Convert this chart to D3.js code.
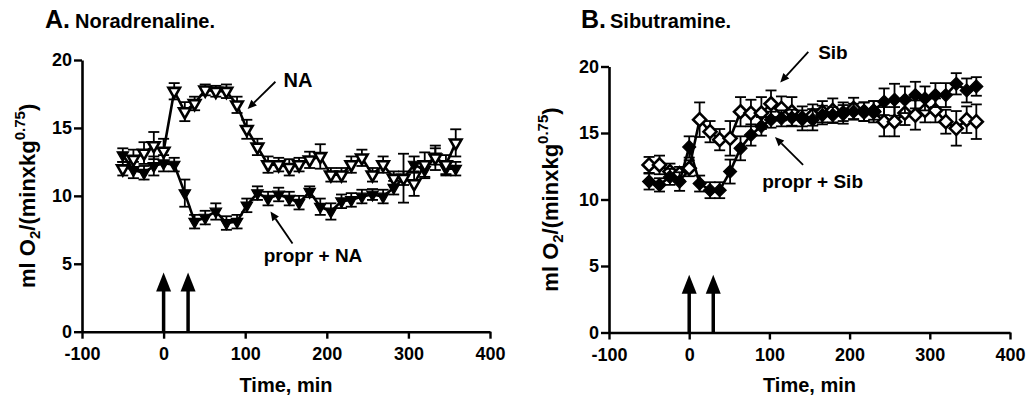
<!DOCTYPE html>
<html><head><meta charset="utf-8">
<script src="https://cdn.jsdelivr.net/npm/d3@7"></script>
<style>
body{margin:0;background:#fff}
text{font-family:"Liberation Sans",Arial,Helvetica,sans-serif;font-weight:bold;fill:#000}
</style>
</head><body>
<svg id="chart" width="1028" height="399"></svg>
<script>
// ---------- data ----------
const times = [-50,-37,-24,-12,0,13,26,38,51,64,77,90,102,115,128,141,154,166,179,192,205,218,230,243,256,269,282,294,307,320,333,346,358];

// Panel A: Noradrenaline
const naMean   = [12.0,12.7,13.15,13.7,13.3,17.7,16.2,16.8,17.8,17.7,17.7,16.7,14.9,13.6,12.3,12.3,12.1,12.3,12.65,12.9,11.55,11.55,12.3,12.8,11.55,12.3,11.3,11.3,10.9,12.3,12.8,12.3,13.9];
const naErr    = [0.5,0.7,0.8,1.0,0.9,0.6,0.7,0.5,0.4,0.4,0.5,0.6,0.7,0.6,0.6,0.5,0.6,0.5,0.6,0.9,0.5,0.5,0.6,0.6,0.5,0.6,0.5,1.8,0.9,0.9,0.9,0.7,1.0];
const prNaMean = [13.0,11.9,11.7,12.2,12.4,12.3,10.2,8.1,8.4,8.85,8.0,8.1,9.3,10.2,9.8,10.1,9.8,9.5,10.3,9.2,8.85,9.6,9.7,9.95,10.1,9.95,10.6,11.3,12.3,11.9,12.9,12.0,12.0];
const prNaErr  = [0.5,0.6,0.5,0.7,0.6,0.5,1.0,0.5,0.5,0.6,0.5,0.5,0.5,0.5,0.5,0.5,0.5,0.5,0.4,0.6,0.6,0.5,0.5,0.5,0.4,0.5,0.5,0.5,0.6,0.6,0.6,0.5,0.5];

// Panel B: Sibutramine
const sibMean   = [12.6,12.6,12.1,11.95,12.35,16.0,15.1,14.5,14.6,16.6,16.5,16.5,17.2,16.85,16.6,16.1,16.35,16.6,16.7,16.5,16.85,16.6,16.6,15.85,15.85,16.5,16.35,16.7,16.7,15.85,15.35,16.0,15.85];
const sibErr    = [0.6,0.7,0.6,0.5,0.6,1.3,0.8,0.8,1.3,1.1,1.0,1.2,1.0,0.9,1.1,0.9,0.8,0.8,0.9,0.8,0.8,0.7,0.8,1.1,1.1,0.9,1.1,0.9,0.9,0.9,1.3,1.0,1.3];
const prSibMean = [11.35,11.1,11.7,11.35,13.95,11.2,10.7,10.7,12.1,13.85,14.85,15.5,16.0,16.1,16.15,16.1,16.0,16.35,16.35,16.5,16.6,16.6,16.7,17.35,17.5,17.5,17.85,17.6,17.85,17.85,18.7,18.2,18.5];
const prSibErr  = [0.6,0.5,0.6,0.7,0.8,0.6,0.6,0.6,0.9,0.9,0.8,0.7,0.6,0.6,0.6,0.6,0.8,0.7,0.6,0.6,0.6,0.7,0.7,1.0,1.2,1.0,1.0,0.9,0.9,0.9,0.8,0.9,0.7];

const xTicks = [-100,0,100,200,300,400];
const yTicks = [0,5,10,15,20];
const xDomain = [-100,400];
const yDomain = [0,20];
const injectionTimes = [0,30];
const injectionTip = 4.35;

// annotations (data units: [t, value])
const annA = [
  {text:"NA", size:20, at:[147,18.0], from:[137,18.4], to:[103,16.4]},
  {text:"propr + NA", size:19, at:[122.6,5.13], from:[158,6.5], to:[131,8.85]}
];
const annB = [
  {text:"Sib", size:19, at:[160.8,20.6], from:[148.5,21.1], to:[113.5,18.8]},
  {text:"propr + Sib", size:19, at:[91,10.86], from:[142,12.6], to:[107,14.7]}
];

// ---------- drawing ----------
const svg = d3.select("#chart");

function markerPath(shape){
  if(shape==="tri"){ const w=11.5,h=10; return `M${-w/2},${-h/3}L${w/2},${-h/3}L0,${2*h/3}Z`; }
  const r=6.5; return `M0,${-r}L${r},0L0,${r}L${-r},0Z`;
}

function drawPanel(cfg){
  const g = svg.append("g");
  const x = d3.scaleLinear().domain(xDomain).range([cfg.x0,cfg.x1]);
  const y = d3.scaleLinear().domain(yDomain).range([cfg.yBot,cfg.yTop]);

  // titles
  g.append("text").attr("x",cfg.titleX).attr("y",28).attr("font-size",25).text(cfg.letter);
  g.append("text").attr("x",cfg.titleX2).attr("y",28).attr("font-size",20).text(cfg.title);

  // axes
  const fmt = d => String(d);
  const xa = g.append("g").attr("transform",`translate(0,${cfg.yBot})`)
    .call(d3.axisBottom(x).tickValues(xTicks).tickFormat(fmt).tickSize(7).tickPadding(9).tickSizeOuter(0));
  const ya = g.append("g").attr("transform",`translate(${cfg.x0},0)`)
    .call(d3.axisLeft(y).tickValues(yTicks).tickFormat(fmt).tickSize(8).tickPadding(2).tickSizeOuter(0));
  [xa,ya].forEach(a=>{
    a.select(".domain").attr("stroke","#000").attr("stroke-width",2.6);
    a.selectAll(".tick line").attr("stroke","#000").attr("stroke-width",2.4);
    a.selectAll(".tick text").attr("font-size",18).attr("font-family","Liberation Sans, Arial, sans-serif").attr("font-weight","bold").attr("fill","#000");
  });

  // axis titles
  g.append("text").attr("x",(cfg.x0+cfg.x1)/2).attr("y",392).attr("text-anchor","middle").attr("font-size",20).text("Time, min");
  const yl = g.append("text").attr("transform",`translate(${cfg.ylabX},${(cfg.yTop+cfg.yBot)/2}) rotate(-90)`)
    .attr("text-anchor","middle").attr("font-size",22);
  yl.append("tspan").text("ml O");
  yl.append("tspan").attr("font-size",15).attr("dy",5).text("2");
  yl.append("tspan").attr("dy",-5).text("/(minxkg");
  yl.append("tspan").attr("font-size",15).attr("dy",-10).text("0.75");
  yl.append("tspan").attr("dy",10).text(")");

  // injection arrows
  injectionTimes.forEach(t=>{
    const xp=x(t), yTip=y(injectionTip), yB=y(0);
    g.append("line").attr("x1",xp).attr("x2",xp).attr("y1",yB).attr("y2",yTip+15)
      .attr("stroke","#000").attr("stroke-width",3.5);
    g.append("path").attr("d",`M${xp},${yTip}L${xp+7.5},${yTip+19}L${xp-7.5},${yTip+19}Z`).attr("fill","#000");
  });

  // series
  cfg.series.forEach(s=>{
    const sg = g.append("g");
    const line = d3.line().x((d,i)=>x(times[i])).y(d=>y(d));
    sg.append("path").datum(s.mean).attr("d",line).attr("fill","none").attr("stroke","#000").attr("stroke-width",2.6);
    s.mean.forEach((m,i)=>{
      const xp=x(times[i]), e=s.err[i];
      sg.append("line").attr("x1",xp).attr("x2",xp).attr("y1",y(m-e)).attr("y2",y(m+e)).attr("stroke","#000").attr("stroke-width",1.8);
      [m-e,m+e].forEach(v=>sg.append("line").attr("x1",xp-5.5).attr("x2",xp+5.5).attr("y1",y(v)).attr("y2",y(v)).attr("stroke","#000").attr("stroke-width",1.8));
    });
    sg.selectAll("path.m").data(s.mean).enter().append("path").attr("class","m")
      .attr("d",markerPath(s.shape))
      .attr("transform",(d,i)=>`translate(${x(times[i])},${y(d)})`)
      .attr("fill",s.open?"#fff":"#000").attr("stroke","#000").attr("stroke-width",s.open?2.6:1.2)
      .attr("stroke-linejoin","miter");
  });

  // annotations
  cfg.ann.forEach(a=>{
    g.append("text").attr("x",x(a.at[0])).attr("y",y(a.at[1])).attr("font-size",a.size).text(a.text);
    const x1=x(a.from[0]), y1=y(a.from[1]), x2=x(a.to[0]), y2=y(a.to[1]);
    const ang=Math.atan2(y2-y1,x2-x1), L=9, W=4;
    const bx=x2-L*Math.cos(ang), by=y2-L*Math.sin(ang);
    g.append("line").attr("x1",x1).attr("y1",y1).attr("x2",bx).attr("y2",by).attr("stroke","#000").attr("stroke-width",1.8);
    const px=-Math.sin(ang)*W, py=Math.cos(ang)*W;
    g.append("path").attr("d",`M${x2},${y2}L${bx+px},${by+py}L${bx-px},${by-py}Z`).attr("fill","#000");
  });
}

drawPanel({x0:82,x1:490,yTop:60,yBot:331.7,ylabX:35,titleX:45,titleX2:75,letter:"A.",title:"Noradrenaline.",
  series:[{mean:prNaMean,err:prNaErr,shape:"tri",open:false},{mean:naMean,err:naErr,shape:"tri",open:true}],ann:annA});
drawPanel({x0:609,x1:1010,yTop:66.5,yBot:332.5,ylabX:558,titleX:581,titleX2:610,letter:"B.",title:"Sibutramine.",
  series:[{mean:sibMean,err:sibErr,shape:"dia",open:true},{mean:prSibMean,err:prSibErr,shape:"dia",open:false}],ann:annB});
</script>
</body></html>
